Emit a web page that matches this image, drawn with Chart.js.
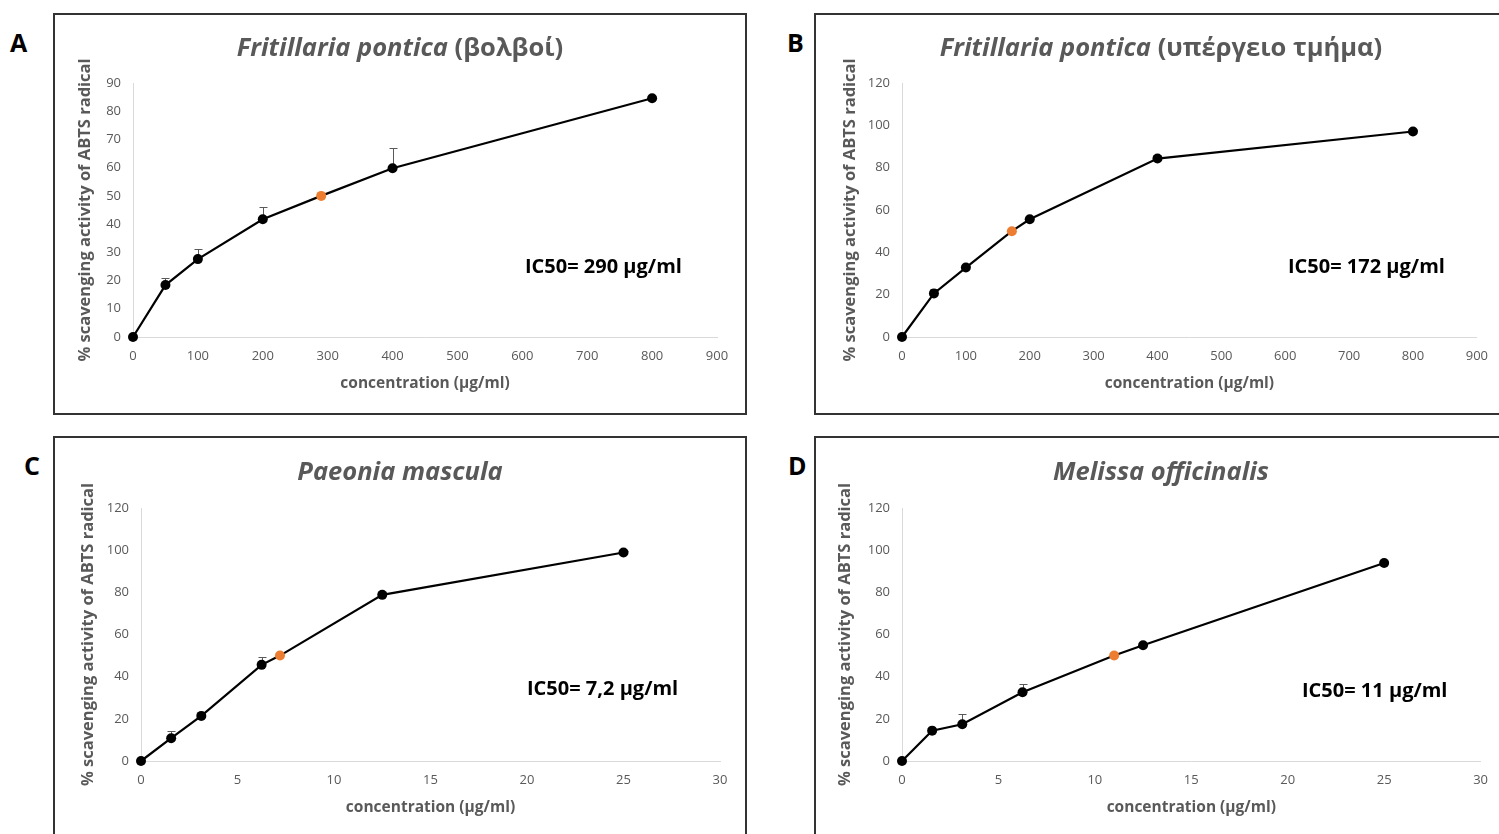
<!DOCTYPE html>
<html>
<head>
<meta charset="utf-8">
<script src="https://cdn.jsdelivr.net/npm/chart.js@4.4.1/dist/chart.umd.min.js"></script>
<style>
  body { margin: 0; width: 1499px; height: 834px; background: #fff; position: relative; overflow: hidden; font-family: "Open Sans", sans-serif; }
  .box { position: absolute; border: 2px solid #333; box-sizing: border-box; }
  canvas { position: absolute; }
  .letter { position: absolute; font-weight: 700; font-size: 25px; color: #000; line-height: 1; }
  .ttl { position: absolute; font-weight: 700; font-size: 25.5px; color: #595959; white-space: nowrap; transform: translate(-50%, -50%); }
  .ic { position: absolute; font-weight: 700; font-size: 20px; color: #000; white-space: nowrap; transform: translateY(-50%); }
</style>
</head>
<body>

<div class="box" style="left:53px;top:13px;width:694px;height:402px"></div>
<div class="box" style="left:814px;top:13px;width:700px;height:402px"></div>
<div class="box" style="left:53px;top:436px;width:694px;height:420px"></div>
<div class="box" style="left:814px;top:436px;width:700px;height:420px"></div>

<canvas id="chartA" width="692" height="400" style="left:54px;top:14px"></canvas>
<canvas id="chartB" width="684" height="400" style="left:815px;top:14px"></canvas>
<canvas id="chartC" width="692" height="397" style="left:54px;top:437px"></canvas>
<canvas id="chartD" width="684" height="397" style="left:815px;top:437px"></canvas>

<div class="letter" style="left:10px;top:30px">A</div>
<div class="letter" style="left:787px;top:30px">B</div>
<div class="letter" style="left:24px;top:453px">C</div>
<div class="letter" style="left:788px;top:453px">D</div>

<div class="ttl" style="left:400px;top:46px"><i>Fritillaria pontica</i> (βολβοί)</div>
<div class="ttl" style="left:1161px;top:46px"><i>Fritillaria pontica</i> (υπέργειο τμήμα)</div>
<div class="ttl" style="left:400px;top:470px"><i>Paeonia mascula</i></div>
<div class="ttl" style="left:1161px;top:470px"><i>Melissa officinalis</i></div>

<div class="ic" style="left:525px;top:265px">IC50= 290 μg/ml</div>
<div class="ic" style="left:1288px;top:265px">IC50= 172 μg/ml</div>
<div class="ic" style="left:527px;top:687px">IC50= 7,2 μg/ml</div>
<div class="ic" style="left:1302px;top:689px">IC50= 11 μg/ml</div>

<script>
// A - Fritillaria pontica (bulbs)
const concA = [0, 50, 100, 200, 290, 400, 800];
const actA = [0, 18.4, 27.6, 41.7, 50, 59.8, 84.6];
const errA = [0, 2.5, 3.5, 4.3, 0, 7.3, 0];
const ic50A = 290;

// B - Fritillaria pontica (aerial part)
const concB = [0, 50, 100, 172, 200, 400, 800];
const actB = [0, 20.6, 32.8, 50, 55.6, 84.3, 97.1];
const errB = [0, 2.2, 0.8, 0, 0.8, 1.5, 0.5];
const ic50B = 172;

// C - Paeonia mascula
const concC = [0, 1.5625, 3.125, 6.25, 7.2, 12.5, 25];
const actC = [0, 10.8, 21.4, 45.6, 50, 78.8, 98.9];
const errC = [0, 3.4, 0.5, 3.5, 0, 1.5, 0.5];
const ic50C = 7.2;

// D - Melissa officinalis
const concD = [0, 1.5625, 3.125, 6.25, 11, 12.5, 25];
const actD = [0, 14.4, 17.4, 32.6, 50, 54.9, 93.9];
const errD = [0, 0.5, 4.8, 4, 0, 1, 0.8];
const ic50D = 11;

const yTitle = '% scavenging activity of ABTS radical';
const xTitle = 'concentration (μg/ml)';

// error bars (upper side only), drawn under the markers
const errorBars = {
  id: 'errorBars',
  beforeDatasetsDraw(chart, args, opts) {
    const { ctx, scales: { x, y } } = chart;
    const pts = chart.data.datasets[0].data;
    ctx.save();
    ctx.strokeStyle = '#595959';
    ctx.lineWidth = 1;
    pts.forEach((p, i) => {
      const e = opts.err[i];
      if (!e) return;
      const px = Math.round(x.getPixelForValue(p.x)) + 0.5;
      const y0 = y.getPixelForValue(p.y);
      const y1 = Math.round(y.getPixelForValue(p.y + e)) + 0.5;
      ctx.beginPath();
      ctx.moveTo(px, y0); ctx.lineTo(px, y1);
      ctx.moveTo(px - 4, y1); ctx.lineTo(px + 4, y1);
      ctx.stroke();
    });
    ctx.restore();
  }
};

function makeChart(id, conc, act, err, ic50, xMax, xStep, yMax, yStep, L) {
  const colors = conc.map(c => c === ic50 ? '#ED7D31' : '#000');
  return new Chart(document.getElementById(id), {
    type: 'line',
    data: {
      datasets: [{
        data: conc.map((c, i) => ({ x: c, y: act[i] })),
        borderColor: '#000',
        borderWidth: 2.2,
        pointRadius: 5,
        pointBackgroundColor: colors,
        pointBorderColor: colors,
        pointBorderWidth: 0,
        tension: 0,
        clip: false
      }]
    },
    options: {
      responsive: false,
      animation: false,
      layout: { padding: { top: L.top, right: L.right, left: 0, bottom: 0 } },
      plugins: {
        legend: { display: false },
        tooltip: { enabled: false },
        errorBars: { err: err }
      },
      scales: {
        x: {
          type: 'linear', min: 0, max: xMax,
          ticks: { stepSize: xStep, color: '#595959', font: { family: 'Open Sans', size: 13 }, padding: 11, maxRotation: 0 },
          grid: { display: false, drawTicks: false },
          border: { display: true, color: '#d9d9d9', width: 1 },
          title: { display: true, text: xTitle, color: '#595959', font: { family: 'Open Sans', size: 15.5, weight: 'bold' }, padding: { top: 0, bottom: L.xPad } },
          afterFit(s) { s.height = L.xH; }
        },
        y: {
          min: 0, max: yMax,
          ticks: { stepSize: yStep, color: '#595959', font: { family: 'Open Sans', size: 13 }, padding: 12 },
          grid: { display: false, drawTicks: false },
          border: { display: true, color: '#d9d9d9', width: 1 },
          title: { display: true, text: yTitle, color: '#595959', font: { family: 'Open Sans', size: 16.5, weight: 'bold' }, padding: { top: L.yPad, bottom: 0 } },
          afterFit(s) { s.width = L.yW; }
        }
      }
    },
    plugins: [errorBars]
  });
}

makeChart('chartA', concA, actA, errA, ic50A, 900, 100, 90, 10, { top: 69, right: 29, xH: 77, xPad: 21, yW: 79, yPad: 21 });
makeChart('chartB', concB, actB, errB, ic50B, 900, 100, 120, 20, { top: 69, right: 21, xH: 77, xPad: 21, yW: 87, yPad: 25 });
makeChart('chartC', concC, actC, errC, ic50C, 30, 5, 120, 20, { top: 71, right: 26, xH: 73, xPad: 17, yW: 87, yPad: 24 });
makeChart('chartD', concD, actD, errD, ic50D, 30, 5, 120, 20, { top: 71, right: 17, xH: 73, xPad: 17, yW: 87, yPad: 20 });
</script>
</body>
</html>
